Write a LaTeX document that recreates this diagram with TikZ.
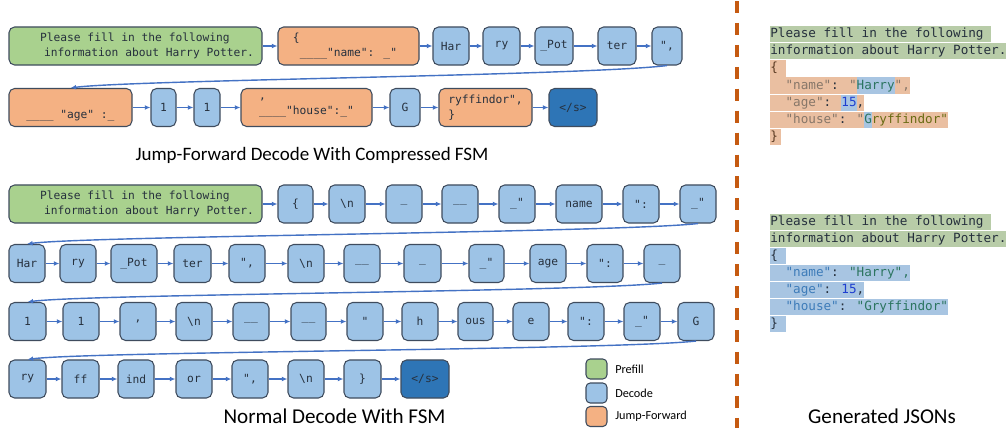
\documentclass[tikz,border=0pt]{standalone}
\usepackage{fontspec}
\setmainfont{Carlito}
\newfontfamily\codefont{DejaVu Sans Mono}
\usetikzlibrary{arrows.meta}

\definecolor{prefillgreen}{HTML}{A9D18E}
\definecolor{decodeblue}{HTML}{9DC3E6}
\definecolor{jumporange}{HTML}{F4B183}
\definecolor{eosblue}{HTML}{2E75B6}
\definecolor{edgegray}{HTML}{3F4C5E}
\definecolor{arrowblue}{HTML}{4472C4}
\definecolor{splitorange}{HTML}{C55A11}
\definecolor{txtdark}{HTML}{26303D}
\definecolor{hlgreen}{HTML}{B8CCA8}
\definecolor{hlorange}{HTML}{EABFA1}
\definecolor{hlblue}{HTML}{A8C5E2}
\definecolor{bracebrown}{HTML}{5A3A22}
\definecolor{keygray}{HTML}{877769}
\definecolor{valteal}{HTML}{2C7560}
\definecolor{numblue}{HTML}{1F3FD0}
\definecolor{valolive}{HTML}{6A6C14}
\definecolor{keyblue}{HTML}{3E7CB9}

\newcommand\hlseg[3]{{\fboxsep=0pt\colorbox{#1}{\rule[-3.3pt]{0pt}{11.6pt}\color{#2}#3}}}

\tikzset{
  tokbox/.style={draw=edgegray, line width=0.75pt, rounded corners=4pt, fill=decodeblue,
    minimum height=0.95cm, minimum width=0.9cm, inner sep=1pt, text=txtdark,
    font=\codefont\fontsize{8}{10.7}\selectfont},
  prebox/.style={tokbox, fill=prefillgreen, align=left},
  jumpbox/.style={tokbox, fill=jumporange, align=left},
  eosbox/.style={tokbox, fill=eosblue},
  flow/.style={draw=arrowblue, line width=1pt, -{Latex[length=4pt,width=3.4pt]}},
  title/.style={font=\fontsize{15}{18}\selectfont},
  jsonline/.style={anchor=west, inner sep=0pt, font=\codefont\fontsize{9}{12}\selectfont},
  legbox/.style={draw=edgegray, line width=0.75pt, rounded corners=3pt,
    minimum width=0.525cm, minimum height=0.5cm, inner sep=0pt},
  legtext/.style={anchor=west, inner sep=0pt, font=\fontsize{8.7}{10}\selectfont}
}

\begin{document}
\begin{tikzpicture}[x=0.025cm, y=-0.025cm]
    \fill[white] (0,0) rectangle (1008,428);
    \useasboundingbox (0,0) rectangle (1008,428);

    \node[prebox, minimum width=253*0.025cm] (pa) at (135.5,46)
      {Please fill in the following\\\hspace*{2.8pt}information about Harry Potter.\hspace*{-16.4pt}};
    \node[jumpbox, minimum width=141*0.025cm] (ja) at (348.5,46) {\hspace*{-5pt}\{\\\_\_\_\_"name": \_"};
    \foreach \x/\bw/\lbl [count=\i] in {451/36/Har, 501.5/37/ry, 554/38/\_Pot, 617/38/ter, 667/30/{",}}
    {
      \node[tokbox, minimum width=\bw*0.025cm] (a\i) at (\x,46) {\lbl};
    }
    \node[jumpbox, minimum width=123*0.025cm] (jb) at (70.5,107.5) {\strut\\\_\_\_\_ "age" :\_};
    \node[tokbox, minimum width=25*0.025cm] (b1) at (163.5,107.5) {1};
    \node[tokbox, minimum width=26*0.025cm] (b2) at (207,107.5) {1};
    \node[jumpbox, minimum width=131*0.025cm] (jc) at (306.5,107.5) {,\\\_\_\_\_"house":\_"};
    \node[tokbox, minimum width=30*0.025cm] (b3) at (405,107.5) {G};
    \node[jumpbox, minimum width=93*0.025cm] (jd) at (485.5,107.5) {ryffindor",\\\}};
    \node[eosbox, minimum width=48*0.025cm] (ea) at (573,107.5) {</s>};
    \foreach \u/\v in {pa/ja, ja/a1, a1/a2, a2/a3, a3/a4, a4/a5, jb/b1, b1/b2, b2/jc, jc/b3, b3/jd, jd/ea}
    {
      \draw[flow] (\u) -- (\v);
    }
    \draw[flow] (a5.south) .. controls +(-80,10) and +(60,-8) .. (jb.north);
    \node[title, font=\fontsize{13.5}{16}\selectfont] (ttop) at (312,155) {Jump-Forward Decode With Compressed FSM};

    \node[prebox, minimum width=253*0.025cm] (pb) at (135.5,204)
      {Please fill in the following\\\hspace*{2.8pt}information about Harry Potter.\hspace*{-16.4pt}};
    \foreach \x/\bw/\lbl [count=\i] in {295.5/35/\{, 347/36/\textbackslash n, 404/36/\_, 460/36/\_\_,
      517/36/\_", 579/46/name, 641/36/":, 698/36/\_"}
    {
      \node[tokbox, minimum width=\bw*0.025cm] (c\i) at (\x,204) {\lbl};
    }
    \foreach \x/\bw/\lbl [count=\i] in {27/36/Har, 78/36/ry, 134/46/\_Pot, 192.5/37/ter, 247/36/{",},
      306/36/\textbackslash n, 362/36/\_\_, 422.5/37/\_, 486.5/35/\_", 548/36/age, 605/36/":, 662/36/\_}
    {
      \node[tokbox, minimum width=\bw*0.025cm] (d\i) at (\x,263.5) {\lbl};
    }
    \foreach \x/\bw/\lbl [count=\i] in {27.5/37/1, 81/36/1, 138/36/{,}, 194/36/\textbackslash n, 251/36/\_\_,
      308.5/35/\_\_, 365/36/", 420/36/h, 475.5/35/ous, 531/36/e, 586/36/":, 642/36/\_", 696/36/G}
    {
      \node[tokbox, minimum width=\bw*0.025cm] (e\i) at (\x,321.5) {\lbl};
    }
    \foreach \x/\bw/\lbl [count=\i] in {27.5/37/ry, 80.5/37/ff, 136/36/ind, 194/36/or, 250/36/{",},
      306/36/\textbackslash n, 362.5/37/\}}
    {
      \node[tokbox, minimum width=\bw*0.025cm] (f\i) at (\x,379) {\lbl};
    }
    \node[eosbox, minimum width=48*0.025cm] (fe) at (425,379) {</s>};
    \draw[flow] (pb) -- (c1);
    \foreach \r/\n in {c/8, d/12, e/13, f/7}
    {
      \foreach \i [remember=\i as \j (initially 1)] in {2,...,\n}
      {
        \draw[flow] (\r\j) -- (\r\i);
      }
    }
    \draw[flow] (f7) -- (fe);
    \foreach \u/\v in {c8/d1, d12/e1, e13/f1}
    {
      \draw[flow] (\u.south) .. controls +(-80,9) and +(60,-8) .. (\v.north);
    }
    \node[title] (tbot) at (334.5,416) {Normal Decode With FSM};

    \node[legbox, fill=prefillgreen] (lp) at (596.5,369) {};
    \node[legbox, fill=decodeblue] (ld) at (596.5,393) {};
    \node[legbox, fill=jumporange] (lj) at (596.5,416.5) {};
    \node[legtext] (ltp) at (615,369) {Prefill};
    \node[legtext] (ltd) at (615,393) {Decode};
    \node[legtext] (ltj) at (615,416.5) {Jump-Forward};

    \coordinate (divtop) at (737,1);
    \coordinate (divbot) at (737,428);
    \draw[splitorange, line width=2.8pt, dash pattern=on 8.5pt off 7.1pt] (divtop) -- (divbot);

    \node[jsonline] (ja1) at (770,34) {\hlseg{hlgreen}{txtdark}{Please fill in the following\ }};
    \node[jsonline] (ja2) at (770,51.2) {\hlseg{hlgreen}{txtdark}{information about Harry Potter.}};
    \node[jsonline] (ja3) at (770,68.4) {\hlseg{hlorange}{bracebrown}{\{\ }};
    \node[jsonline] (ja4) at (770,85.6)
      {\hlseg{hlorange}{keygray}{\ \ "name"\textcolor{txtdark}{: }"}\hlseg{hlblue}{valteal}{Harry}\hlseg{hlorange}{keygray}{",}};
    \node[jsonline] (ja5) at (770,102.8)
      {\hlseg{hlorange}{keygray}{\ \ "age"\textcolor{txtdark}{: }}\hlseg{hlblue}{numblue}{15}\hlseg{hlorange}{txtdark}{,}};
    \node[jsonline] (ja6) at (770,120)
      {\hlseg{hlorange}{keygray}{\ \ "house"\textcolor{txtdark}{: }"}\hlseg{hlblue}{valteal}{G}\hlseg{hlorange}{valolive}{ryffindor"}};
    \node[jsonline] (ja7) at (770,137.2) {\hlseg{hlorange}{bracebrown}{\}\kern2pt}};

    \node[jsonline] (jb1) at (770,222) {\hlseg{hlgreen}{txtdark}{Please fill in the following\ }};
    \node[jsonline] (jb2) at (770,239) {\hlseg{hlgreen}{txtdark}{information about Harry Potter.}};
    \node[jsonline] (jb3) at (770,256) {\hlseg{hlblue}{txtdark}{\{\ }};
    \node[jsonline] (jb4) at (770,273)
      {\hlseg{hlblue}{keyblue}{\ \ "name"\textcolor{txtdark}{: }\textcolor{valteal}{"Harry",}}};
    \node[jsonline] (jb5) at (770,290)
      {\hlseg{hlblue}{keyblue}{\ \ "age"\textcolor{txtdark}{: }\textcolor{numblue}{15}\textcolor{txtdark}{,}}};
    \node[jsonline] (jb6) at (770,307)
      {\hlseg{hlblue}{keyblue}{\ \ "house"\textcolor{txtdark}{: }\textcolor{valteal}{"Gryffindor"}}};
    \node[jsonline] (jb7) at (770,324) {\hlseg{hlblue}{txtdark}{\}\ }};
    \node[title] (tjson) at (882,416) {Generated JSONs};
\end{tikzpicture}
\end{document}
